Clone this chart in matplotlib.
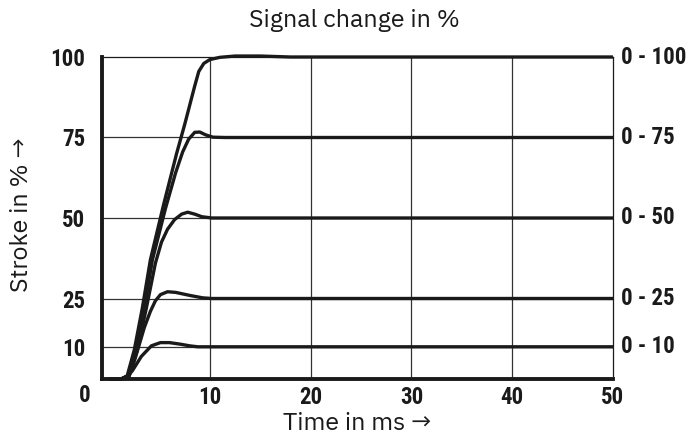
import matplotlib
matplotlib.use("Agg")
import matplotlib.pyplot as plt
import matplotlib.transforms as mtransforms

# Kurvendaten
t_100 = [0, 1.2, 1.8, 2.5, 3.3, 4.1, 5.4, 6.7, 7.5, 8.0, 8.5, 8.9, 9.4, 10.0, 11.0, 12.5, 15.0, 18.0, 50]
v_100 = [0, 0, 1, 9, 22, 37, 54, 70, 79, 85, 91, 95.5, 98, 99.2, 99.9, 100.3, 100.3, 100, 100]

t_75 = [0, 1.2, 1.9, 2.7, 3.5, 4.3, 5.6, 6.6, 7.3, 7.9, 8.5, 9.0, 9.6, 10.3, 11.5, 50]
v_75 = [0, 0, 1, 9, 22, 37, 53, 64, 70.5, 74.5, 76.6, 76.7, 75.8, 75.1, 75, 75]

t_50 = [0, 1.2, 2.0, 2.8, 3.7, 4.6, 5.2, 5.8, 6.5, 7.2, 7.8, 8.5, 9.2, 10.2, 50]
v_50 = [0, 0, 1, 9, 22, 36, 42.5, 46.5, 49.5, 51.2, 51.8, 51.2, 50.4, 50, 50]

t_25 = [0, 1.2, 2.0, 2.6, 3.5, 4.1, 4.6, 5.1, 5.8, 6.6, 8.1, 9.3, 10.2, 50]
v_25 = [0, 0, 1, 6.5, 16, 21, 24.3, 26.2, 27.1, 26.9, 25.9, 25.2, 25, 25]

t_10 = [0, 1.2, 1.8, 2.3, 3.2, 4.2, 5.1, 6.0, 7.1, 8.0, 8.8, 50]
v_10 = [0, 0, 0.8, 2.5, 7, 10.3, 11.3, 11.3, 10.8, 10.3, 10, 10]

x_ticks = [10, 20, 30, 40, 50]
y_ticks = [10, 25, 50, 75, 100]
right_labels = ["0 - 10", "0 - 25", "0 - 50", "0 - 75", "0 - 100"]

bold_font = ["Roboto Condensed", "IBM Plex Sans Condensed", "Liberation Sans", "DejaVu Sans"]
text_font = ["IBM Plex Sans", "Roboto", "DejaVu Sans"]
lab_size = 16.5

fig = plt.figure(figsize=(7, 4.41), dpi=100)
ax = fig.add_axes([102 / 700, 62 / 441, 511 / 700, 322 / 441])

ax.set_xlim(-0.7, 50)
ax.set_ylim(0, 100)

# Gitter
for x in x_ticks[:-1]:
    ax.axvline(x, color="#333333", lw=0.9, zorder=1)
for y in y_ticks[:-1]:
    ax.axhline(y, color="#333333", lw=0.9, zorder=1)

for t, v in [(t_100, v_100), (t_75, v_75), (t_50, v_50), (t_25, v_25), (t_10, v_10)]:
    ax.plot(t, v, color="#1a1a1a", lw=2.4, solid_capstyle="butt", zorder=3, clip_on=False)

ax.spines["left"].set_linewidth(2.8)
ax.spines["bottom"].set_linewidth(2.8)
ax.spines["top"].set_linewidth(0.9)
ax.spines["right"].set_linewidth(0.9)
for s in ax.spines.values():
    s.set_color("#1a1a1a")

ax.set_xticks(x_ticks)
ax.set_xticklabels([str(x) for x in x_ticks], fontfamily=bold_font, fontweight="bold",
                   fontsize=lab_size, color="#1a1a1a")
ax.set_yticks(y_ticks)
ax.set_yticklabels([str(y) for y in y_ticks], fontfamily=bold_font, fontweight="bold",
                   fontsize=lab_size, color="#1a1a1a")
ax.tick_params(axis="x", length=0, pad=5)
ax.tick_params(axis="y", length=0, pad=12)

# "0" sitzt links neben der Achse
ax.text(-2.4, 0, "0", ha="center", va="top", fontfamily=bold_font, fontweight="bold",
        fontsize=lab_size, color="#1a1a1a", clip_on=False,
        transform=ax.transData + mtransforms.ScaledTranslation(0, -5 / 100, fig.dpi_scale_trans))

# rechte Beschriftung
shift = mtransforms.ScaledTranslation(8 / 100, 0, fig.dpi_scale_trans)
for y, lab in zip(y_ticks, right_labels):
    ax.text(1.0, y, lab, ha="left", va="center", fontfamily=bold_font, fontweight="bold",
            fontsize=lab_size, color="#1a1a1a",
            transform=mtransforms.blended_transform_factory(ax.transAxes, ax.transData) + shift)

fig.text(354 / 700, 1 - 20 / 441, "Signal change in %", ha="center", va="center",
         fontfamily=text_font, fontsize=18, color="#1a1a1a")
fig.text(357 / 700, 1 - 424 / 441, "Time in ms \u2192", ha="center", va="center",
         fontfamily=text_font, fontsize=18, color="#1a1a1a")
fig.text(22 / 700, 1 - 215 / 441, "Stroke in % \u2192", ha="center", va="center", rotation=90,
         fontfamily=text_font, fontsize=18, color="#1a1a1a")

fig.savefig("out.png", dpi=100)
